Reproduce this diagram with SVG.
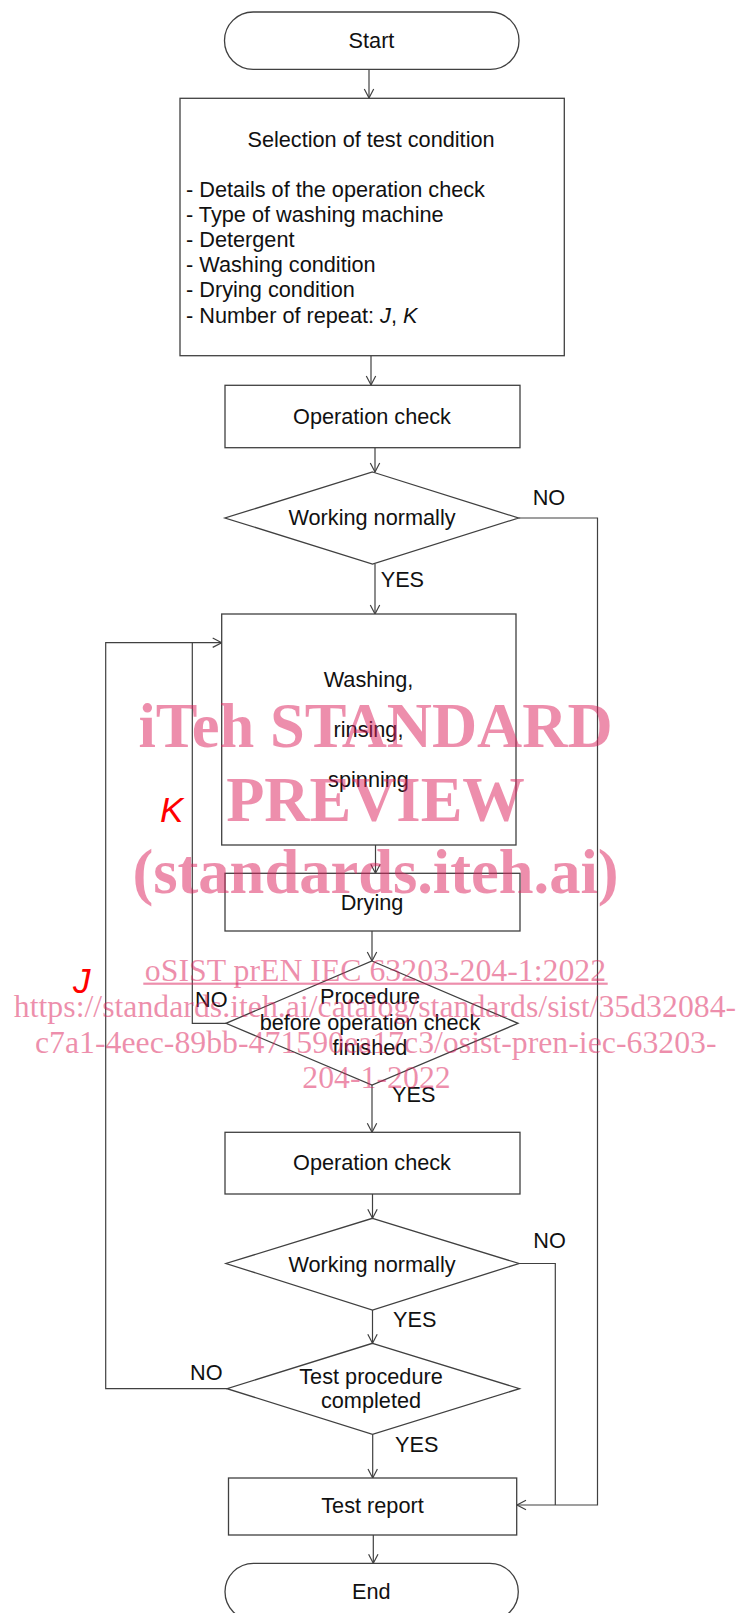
<svg xmlns="http://www.w3.org/2000/svg" width="740" height="1613" viewBox="0 0 740 1613">
<style>
.box{fill:#fff;stroke:#404040;stroke-width:1.3}
.t{font-family:"Liberation Sans",Arial,sans-serif;font-size:21.7px;fill:#111}
.c{text-anchor:middle}
.ln{fill:none;stroke:#404040;stroke-width:1.2}
.red{font-family:"Liberation Sans",Arial,sans-serif;font-size:35px;font-style:italic;fill:#ff0000}
.wm{font-family:"Liberation Serif","Times New Roman",serif;fill:#dc1e5a;fill-opacity:0.5;text-anchor:middle}
.big{font-size:62.5px;font-weight:bold}
.sm{font-size:31.8px}
</style>
<defs>
<marker id="ah" markerWidth="12" markerHeight="12" refX="10" refY="6" orient="auto" markerUnits="userSpaceOnUse">
<path d="M1,1.3 L10,6 L1,10.7" fill="none" stroke="#404040" stroke-width="1.2"/>
</marker>
</defs>

<g id="connectors">
<line class="ln" x1="369" y1="69.3" x2="369" y2="98" marker-end="url(#ah)"/>
<line class="ln" x1="371" y1="355.7" x2="371" y2="385" marker-end="url(#ah)"/>
<line class="ln" x1="375" y1="447.7" x2="375" y2="472" marker-end="url(#ah)"/>
<line class="ln" x1="375" y1="564" x2="375" y2="614" marker-end="url(#ah)"/>
<polyline class="ln" points="518.5,518 597.5,518 597.5,1505 517,1505" marker-end="url(#ah)"/>
<line class="ln" x1="375.5" y1="845" x2="375.5" y2="873.3" marker-end="url(#ah)"/>
<line class="ln" x1="372" y1="931" x2="372" y2="961" marker-end="url(#ah)"/>
<polyline class="ln" points="226,1023.3 192.3,1023.3 192.3,642.7"/>
<line class="ln" x1="372" y1="1085" x2="372" y2="1132.3" marker-end="url(#ah)"/>
<line class="ln" x1="372.5" y1="1194" x2="372.5" y2="1218.3" marker-end="url(#ah)"/>
<polyline class="ln" points="519,1263.5 555.3,1263.5 555.3,1505"/>
<line class="ln" x1="372.5" y1="1310" x2="372.5" y2="1343.3" marker-end="url(#ah)"/>
<polyline class="ln" points="227,1388.7 105.7,1388.7 105.7,642.7 221.7,642.7" marker-end="url(#ah)"/>
<line class="ln" x1="372.7" y1="1434.3" x2="372.7" y2="1478" marker-end="url(#ah)"/>
<line class="ln" x1="373.3" y1="1535" x2="373.3" y2="1563.3" marker-end="url(#ah)"/>
</g>

<g id="start">
<rect class="box" x="224.5" y="12" width="294.5" height="57.3" rx="28.6"/>
<text class="t c" x="371.5" y="48">Start</text>
</g>

<g id="selection">
<rect class="box" x="180" y="98.3" width="384.3" height="257.4"/>
<text class="t c" x="371" y="147">Selection of test condition</text>
<text class="t" x="186" y="196.5">- Details of the operation check</text>
<text class="t" x="186" y="221.7">- Type of washing machine</text>
<text class="t" x="186" y="246.9">- Detergent</text>
<text class="t" x="186" y="272.1">- Washing condition</text>
<text class="t" x="186" y="297.3">- Drying condition</text>
<text class="t" x="186" y="322.5">- Number of repeat: <tspan font-style="italic">J</tspan>, <tspan font-style="italic">K</tspan></text>
</g>

<g id="opcheck1">
<rect class="box" x="225" y="385.3" width="295" height="62.4"/>
<text class="t c" x="372" y="424">Operation check</text>
</g>

<g id="decision1">
<polygon class="box" points="372.5,472 518.5,518 372.5,564 225,518"/>
<text class="t c" x="372" y="525">Working normally</text>
<text class="t" x="532.7" y="505">NO</text>
<text class="t" x="380.7" y="586.7">YES</text>
</g>

<g id="washing">
<rect class="box" x="221.7" y="614" width="294.3" height="231"/>
<text class="t c" x="368.5" y="686.7">Washing,</text>
<text class="t c" x="368.5" y="737.3">rinsing,</text>
<text class="t c" x="368.5" y="787.3">spinning</text>
</g>

<g id="loop-labels">
<text class="red" x="160" y="821.7">K</text>
<text class="red" x="73" y="993">J</text>
</g>

<g id="drying">
<rect class="box" x="225" y="873.3" width="295" height="57.7"/>
<text class="t c" x="372" y="910">Drying</text>
</g>

<g id="decision2">
<polygon class="box" points="372,961 518,1023.3 372,1085 226,1023.3"/>
<text class="t c" x="370" y="1004">Procedure</text>
<text class="t c" x="370" y="1029.5">before operation check</text>
<text class="t c" x="370" y="1054.5">finished</text>
<text class="t" x="195" y="1007">NO</text>
<text class="t" x="392" y="1101.7">YES</text>
</g>

<g id="opcheck2">
<rect class="box" x="225" y="1132.3" width="295" height="61.7"/>
<text class="t c" x="372" y="1170">Operation check</text>
</g>

<g id="decision3">
<polygon class="box" points="372.5,1218.3 519,1263.5 372.5,1310 226,1263.5"/>
<text class="t c" x="372" y="1271.7">Working normally</text>
<text class="t" x="533.3" y="1248.3">NO</text>
<text class="t" x="393" y="1327.3">YES</text>
</g>

<g id="decision4">
<polygon class="box" points="372.5,1343.3 519.5,1388.7 372.5,1434.3 227,1388.7"/>
<text class="t c" x="371" y="1384">Test procedure</text>
<text class="t c" x="371" y="1408.3">completed</text>
<text class="t" x="190" y="1380">NO</text>
<text class="t" x="395" y="1451.7">YES</text>
</g>

<g id="report">
<rect class="box" x="228.5" y="1478" width="288.2" height="57"/>
<text class="t c" x="372.5" y="1513.3">Test report</text>
</g>

<g id="end">
<rect class="box" x="225" y="1563.3" width="293.3" height="57" rx="28.5"/>
<text class="t c" x="371.3" y="1599.3">End</text>
</g>

<g id="watermark">
<text class="wm big" x="375.5" y="746.7">iTeh STANDARD</text>
<text class="wm big" x="375.5" y="820.7">PREVIEW</text>
<text class="wm big" x="375.5" y="893">(standards.iteh.ai)</text>
<text class="wm sm" x="375.5" y="980.7">oSIST prEN IEC 63203-204-1:2022</text>
<rect x="143.3" y="982.6" width="464.4" height="2.2" fill="#dc1e5a" fill-opacity="0.5"/>
<text class="wm sm" x="375" y="1016.7">https://standards.iteh.ai/catalog/standards/sist/35d32084-</text>
<text class="wm sm" x="375.8" y="1053">c7a1-4eec-89bb-471590ea17c3/osist-pren-iec-63203-</text>
<text class="wm sm" x="376.5" y="1088">204-1-2022</text>
</g>
</svg>
